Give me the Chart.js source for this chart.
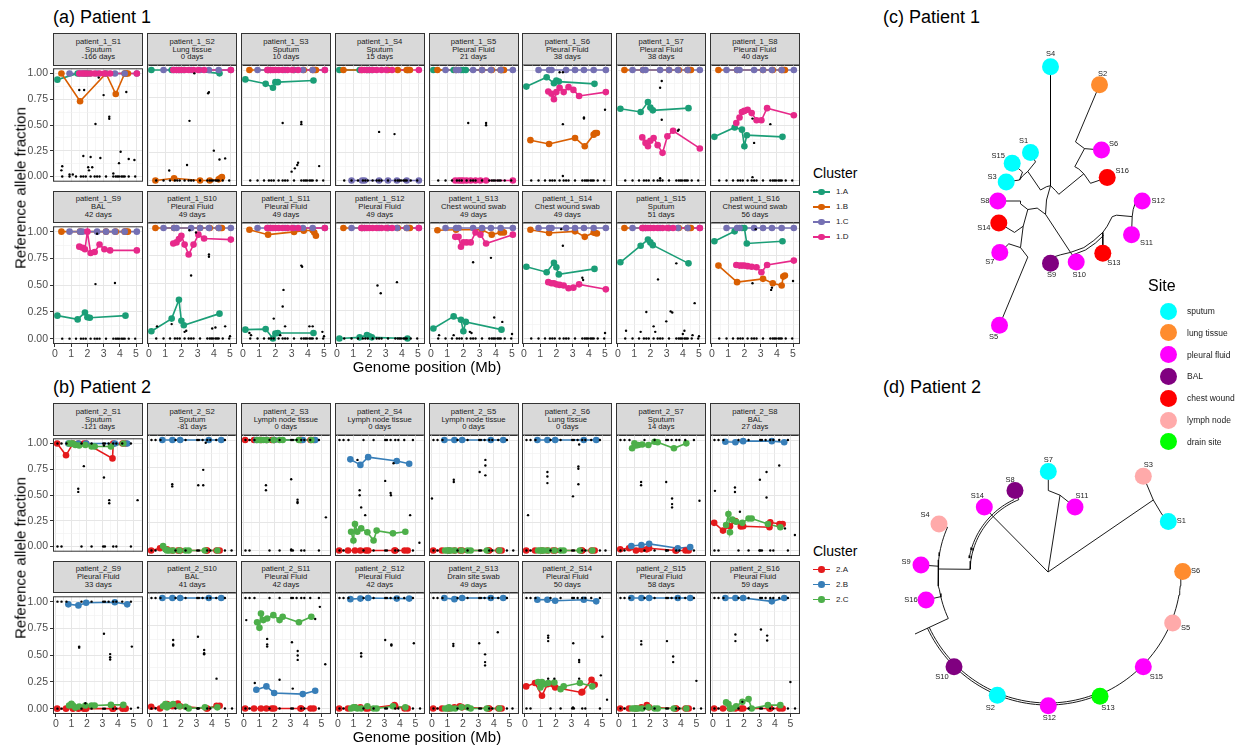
<!DOCTYPE html>
<html>
<head>
<meta charset="utf-8">
<title>Clusters and trees</title>
<script src="https://cdn.jsdelivr.net/npm/chart.js@4.4.1/dist/chart.umd.min.js"></script>
<style>
  html, body { margin: 0; padding: 0; background: #fff; }
  body { width: 1238px; height: 745px; position: relative; overflow: hidden;
         font-family: "Liberation Sans", Arial, Helvetica, sans-serif; color: #000; }
  canvas, .txt, .strip, .key { position: absolute; }
  .strip { background: #d9d9d9; border: 1px solid #333; box-sizing: border-box; font-size: 7.7px;
           line-height: 7.9px; text-align: center; color: #1a1a1a; padding-top: 3.6px; white-space: nowrap;
           -webkit-font-smoothing: antialiased; }
  .txt { white-space: nowrap; line-height: 1; }
  .title { font-size: 18px; }
  .axis { font-size: 15px; }
  .legtitle { font-size: 14px; }
  .leg { font-size: 8px; color: #1a1a1a; }
</style>
</head>
<body>
<script>
// ================= DATA =================
// ---- Patient 1 ----
const p1Days = [-166, 0, 10, 15, 21, 38, 38, 40, 42, 49, 49, 49, 49, 49, 51, 56];
const p1Sites = ['Sputum', 'Lung tissue', 'Sputum', 'Sputum', 'Pleural Fluid', 'Pleural Fluid', 'Pleural Fluid', 'Pleural Fluid',
  'BAL', 'Pleural Fluid', 'Pleural Fluid', 'Pleural Fluid', 'Chest wound swab', 'Chest wound swab', 'Sputum', 'Chest wound swab'];
const p1Clusters = ['1.A', '1.B', '1.C', '1.D'];
const p1Colors = ['#1b9e77', '#d95f02', '#7570b3', '#e7298a'];
// genome position (Mb) of the mutations in each cluster
const p1PosA = [0.15, 1.4, 1.85, 2.0, 2.15, 4.35];
const p1PosB = [0.4, 1.55, 3.15, 3.75, 4.3, 4.4, 4.5];
const p1PosC = [0.9, 1.55, 1.7, 2.6, 3.15, 3.7, 4.3, 5.05];
const p1PosD = [1.5, 1.7, 1.85, 2.0, 2.2, 2.45, 2.75, 3.05, 3.4, 5.05];
// reference allele fraction, one row per sample S1..S16
const p1FracA = [
  [0.94, 1, 1, 1, 1, 1], [1, 1, 1, 1, 1, 0.97], [0.915, 0.875, 0.84, 0.89, 0.89, 0.905], [1, 1, 1, 1, 1, 1],
  [1, 1, 1, 1, 1, 1], [0.85, 0.935, 0.88, 0.905, 0.895, 0.875], [0.65, 0.62, 0.71, 0.66, 0.635, 0.655], [0.395, 0.48, 0.46, 0.31, 0.41, 0.395],
  [0.215, 0.18, 0.245, 0.2, 0.195, 0.215], [0.065, 0.18, 0.35, 0.16, 0.12, 0.225], [0.08, 0.085, 0.0, 0.045, 0.05, 0.05], [0.0, 0.01, 0.03, 0.02, 0.01, 0.0],
  [0.09, 0.2, 0.17, 0.065, 0.15, 0.08], [0.65, 0.6, 0.685, 0.645, 0.58, 0.63], [0.69, 0.84, 0.895, 0.87, 0.845, 0.68], [0.88, 0.97, 1.0, 1.0, 0.86, 0.88]
];
const p1FracB = [
  [1, 0.73, 1, 0.8, 1, 1, 1], [0, 0.02, 0, 0, 0.01, 0.02, 0.03], [1, 1, 1, 1, 1, 1, 1], [1, 1, 1, 1, 1, 1, 1],
  [1, 1, 1, 1, 1, 1, 1], [0.365, 0.33, 0.385, 0.31, 0.415, 0.43, 0.43], [1, 1, 1, 1, 1, 1, 1], [1, 1, 1, 1, 1, 1, 1],
  [1, 1, 1, 1, 1, 1, 1], [1, 1, 1, 1, 1, 1, 1], [0.985, 0.94, 0.965, 0.975, 0.98, 0.96, 0.93], [1, 1, 1, 1, 1, 1, 1],
  [0.98, 0.985, 0.985, 0.94, 0.96, 0.965, 0.96], [0.985, 0.955, 0.97, 0.92, 0.96, 0.955, 0.95], [1, 1, 1, 1, 1, 1, 1], [0.66, 0.51, 0.54, 0.5, 0.48, 0.56, 0.57]
];
const p1FracC = [
  [1, 1, 1, 1, 1, 1, 1, 1], [1, 1, 1, 1, 1, 1, 1, 1], [1, 1, 1, 1, 1, 1, 1, 1], [0, 0, 0, 0, 0, 0, 0, 0],
  [1, 1, 1, 1, 1, 1, 1, 1], [1, 1, 1, 1, 1, 1, 1, 1], [1, 1, 1, 1, 1, 1, 1, 1], [1, 1, 1, 1, 1, 1, 1, 1],
  [1, 1, 1, 1, 1, 1, 1, 1], [1, 1, 1, 1, 1, 1, 1, 1], [1, 1, 1, 1, 1, 1, 1, 1], [1, 1, 1, 1, 1, 1, 1, 1],
  [1, 1, 1, 1, 1, 1, 1, 1], [1, 1, 1, 1, 1, 1, 1, 1], [1, 1, 1, 1, 1, 1, 1, 1], [1, 1, 1, 1, 1, 1, 1, 1]
];
const p1FracD = [
  [1, 1, 1, 1, 1, 1, 1, 1, 1, 1], [1, 1, 1, 1, 1, 1, 1, 1, 1, 1], [1, 1, 1, 1, 1, 1, 1, 1, 1, 1], [1, 1, 1, 1, 1, 1, 1, 1, 1, 1],
  [0, 0, 0, 0, 0, 0, 0, 0, 0, 0], [0.805, 0.785, 0.735, 0.8, 0.84, 0.8, 0.845, 0.82, 0.765, 0.8],
  [0.39, 0.34, 0.31, 0.36, 0.385, 0.32, 0.25, 0.4, 0.45, 0.29], [0.52, 0.57, 0.62, 0.63, 0.64, 0.61, 0.545, 0.545, 0.655, 0.59],
  [0.86, 0.85, 0.835, 1.0, 0.8, 0.81, 0.88, 0.835, 0.825, 0.825], [0.86, 0.87, 0.9, 0.93, 0.85, 0.76, 0.85, 0.94, 0.905, 0.895],
  [1, 1, 1, 1, 1, 1, 1, 1, 1, 1], [1, 1, 1, 1, 1, 1, 1, 1, 1, 1],
  [0.92, 0.92, 0.83, 0.87, 0.87, 0.87, 0.96, 0.94, 0.86, 0.94], [0.51, 0.5, 0.5, 0.49, 0.485, 0.48, 0.455, 0.46, 0.49, 0.445],
  [1, 1, 1, 1, 1, 1, 1, 1, 1, 1], [0.665, 0.66, 0.66, 0.66, 0.655, 0.65, 0.645, 0.6, 0.665, 0.705]
];
// mutations outside the clusters (black dots)
const p1ZeroPos = [0.45, 0.9, 1.3, 1.6, 1.75, 1.9, 2.2, 2.45, 2.6, 2.75, 3.15, 3.6, 3.75, 3.85, 3.95, 4.1, 4.2, 4.3, 4.55, 4.95];
const p1Other = [
  [[0.4, 0.06], [0.45, 0.1], [0.9, 0.02], [1.1, 0.02], [1.5, 0.84], [1.8, 0.84], [1.75, 0.2], [2.2, 0.19], [2.05, 0.09], [2.1, 0.06], [2.3, 0.09], [2.5, 0.51], [2.7, 0.96], [2.8, 0.18], [3.0, 0.79], [3.35, 0.56], [3.35, 0.58], [3.6, 0.03], [3.95, 0.13], [4.05, 0.24], [4.4, 0.82], [4.55, 0.17], [4.9, 0.16]],
  [[1.25, 0.09], [2.35, 0.14], [2.5, 0.54], [2.8, 0.97], [3.65, 0.79], [3.7, 0.8], [4.0, 0.27], [4.35, 0.19], [4.7, 0.2]],
  [[2.45, 0.52], [3.6, 0.51], [3.6, 0.53], [3.0, 0.08], [3.2, 0.11], [3.35, 0.14], [3.4, 0.16], [4.7, 0.13]],
  [[2.6, 0.44], [3.55, 0.42]],
  [[2.3, 0.52], [3.4, 0.5], [3.4, 0.52]],
  [[2.2, 0.98], [2.4, 0.98], [5.0, 0.64], [3.7, 0.56], [3.7, 0.57], [2.4, 0.51], [2.4, 0.04]],
  [[2.7, 0.9], [2.6, 0.84], [2.7, 0.55], [3.7, 0.45], [3.75, 0.46], [2.6, 0.02]],
  [[2.5, 0.56], [2.6, 0.34], [3.6, 0.51], [2.5, 0.03]],
  [[2.6, 0.98], [2.5, 0.51], [3.7, 0.52]],
  [[2.5, 0.98], [2.9, 0.96], [2.6, 0.57], [3.7, 0.76], [3.7, 0.74], [0.5, 0.11], [1.4, 0.13], [2.2, 0.06], [2.3, 0.07], [3.9, 0.09], [4.1, 0.1], [4.7, 0.11], [5.0, 0.02]],
  [[0.4, 0.05], [0.5, 0.03], [1.9, 0.18], [2.45, 0.29], [2.5, 0.44], [2.6, 0.11], [3.6, 0.66], [3.65, 0.65], [4.1, 0.11], [4.3, 0.11], [4.9, 0.06], [5.0, 0.02], [2.3, 0.03]],
  [[2.5, 0.48], [2.7, 0.41], [3.7, 0.51]],
  [[2.6, 0.69], [3.7, 0.73], [3.9, 0.19], [4.4, 0.15], [0.5, 0.03], [2.4, 0.06], [2.5, 0.05], [1.4, 0.03], [5.0, 0.04]],
  [[2.4, 0.84], [3.6, 0.55], [3.65, 0.53], [2.3, 0.99], [5.0, 0.05]],
  [[3.6, 0.68], [2.47, 0.535], [4.73, 0.32], [1.75, 0.24], [3.25, 0.245], [3.35, 0.235], [2.98, 0.155], [2.2, 0.11], [2.3, 0.06], [0.5, 0.07], [1.4, 0.06], [4.0, 0.04], [4.1, 0.07], [4.6, 0.03], [5.0, 0.02]],
  [[2.5, 0.5], [3.7, 0.46], [3.65, 0.44], [5.0, 0.52], [2.7, 0.99]]
];

// ---- Patient 2 ----
const p2Days = [-121, -81, 0, 0, 0, 0, 14, 27, 33, 41, 42, 42, 49, 50, 58, 59];
const p2Sites = ['Sputum', 'Sputum', 'Lymph node tissue', 'Lymph node tissue', 'Lymph node tissue', 'Lung tissue', 'Sputum', 'BAL',
  'Pleural Fluid', 'BAL', 'Pleural Fluid', 'Pleural Fluid', 'Drain site swab', 'Pleural Fluid', 'Pleural Fluid', 'Pleural Fluid'];
const p2Clusters = ['2.A', '2.B', '2.C'];
const p2Colors = ['#e41a1c', '#377eb8', '#4daf4a'];
const p2PosA = [0.08, 0.65, 1.1, 1.45, 1.8, 1.95, 3.65, 3.7, 4.3, 4.5];
const p2PosB = [0.8, 1.45, 1.95, 3.8, 4.6];
const p2PosC = [0.85, 1.0, 1.1, 1.25, 1.5, 1.9, 2.3, 2.5, 3.55, 4.35];
const p2FracA = [
  [1.0, 0.885, 1.0, 1.0, 1.0, 1.0, 0.855, 1.0, 1.0, 1.0], [0, 0.02, 0.01, 0, 0, 0, 0, 0, 0, 0],
  [1, 1, 1, 1, 1, 1, 1, 1, 1, 1], [0, 0, 0, 0, 0, 0, 0, 0, 0, 0],
  [0, 0, 0, 0, 0, 0, 0, 0, 0, 0], [0, 0, 0, 0, 0, 0, 0, 0, 0, 0],
  [0.01, 0.02, 0, 0.01, 0.01, 0.02, 0, 0, 0, 0], [0.25, 0.18, 0.22, 0.267, 0.218, 0.22, 0.21, 0.255, 0.24, 0.24],
  [0, 0, 0, 0, 0, 0, 0, 0, 0, 0], [0.015, 0.0, 0.04, 0.02, 0.045, 0.02, 0.0, 0.0, 0.025, 0.025],
  [0, 0, 0, 0, 0, 0, 0, 0, 0, 0], [0, 0, 0.01, 0.01, 0, 0, 0.03, 0.02, 0, 0],
  [0, 0, 0, 0.01, 0.02, 0.01, 0, 0, 0, 0], [0.2, 0.23, 0.115, 0.22, 0.22, 0.19, 0.145, 0.15, 0.26, 0.215],
  [0, 0, 0, 0.01, 0.03, 0.01, 0, 0, 0, 0], [0, 0, 0, 0, 0, 0, 0, 0, 0, 0]
];
const p2FracB = [
  [1, 1, 1, 1, 1], [1, 1, 1, 1, 1], [1, 1, 1, 1, 1], [0.825, 0.775, 0.845, 0.81, 0.785],
  [1, 1, 1, 1, 1], [1, 1, 1, 1, 1], [0.04, 0.05, 0.06, 0.02, 0.03], [0.985, 0.98, 0.99, 0.99, 0.98],
  [0.975, 0.965, 0.99, 0.995, 0.975], [1, 1, 1, 1, 1], [0.17, 0.2, 0.14, 0.13, 0.16], [0.99, 0.995, 1.0, 0.995, 0.995],
  [1.0, 0.99, 1.0, 1.0, 1.0], [0.985, 0.985, 0.975, 0.985, 0.97], [1, 1, 1, 1, 1], [1.0, 1.0, 1.0, 0.97, 1.0]
];
const p2FracC = [
  [1.0, 1.0, 1.0, 0.985, 0.98, 0.985, 0.97, 0.97, 0.97, 1.0], [0.04, 0.01, 0, 0, 0, 0, 0, 0, 0, 0],
  [1, 1, 1, 1, 1, 1, 1, 1, 1, 1], [0.17, 0.09, 0.24, 0.17, 0.2, 0.165, 0.09, 0.18, 0.155, 0.17],
  [0, 0, 0, 0, 0, 0, 0, 0, 0, 0], [0, 0, 0, 0, 0, 0, 0, 0, 0, 0],
  [0.925, 0.97, 0.95, 0.955, 0.96, 0.955, 0.985, 0.98, 0.925, 0.97], [0.23, 0.33, 0.165, 0.28, 0.26, 0.25, 0.29, 0.29, 0.24, 0.21],
  [0.03, 0.045, 0.03, 0.01, 0.02, 0.03, 0.03, 0.03, 0.035, 0.035], [0.02, 0.04, 0.01, 0.03, 0.04, 0.02, 0.015, 0.0, 0.01, 0.01],
  [0.78, 0.73, 0.86, 0.8, 0.815, 0.845, 0.8, 0.83, 0.78, 0.83], [0.0, 0.01, 0.01, 0.0, 0.0, 0.02, 0.0, 0.0, 0.02, 0.01],
  [0, 0, 0.01, 0, 0, 0.01, 0.01, 0, 0, 0], [0.24, 0.19, 0.24, 0.22, 0.23, 0.235, 0.175, 0.2, 0.23, 0.2],
  [0, 0, 0, 0, 0, 0.01, 0, 0, 0, 0], [0.055, 0.04, 0.0, 0.0, 0.02, 0.06, 0.085, 0.0, 0.03, 0.03]
];
const p2OnePos = [0.1, 0.36, 0.68, 1.65, 2.3, 3.05, 3.16, 3.4, 3.7, 3.9, 4.28, 4.84];
const p2ZeroPos = [0.1, 0.36, 1.65, 2.3, 3.05, 3.16, 3.7, 3.9, 4.84];
const p2Other = [
  [[1.8, 0.78], [1.44, 0.56], [1.44, 0.53], [3.1, 0.67], [3.44, 0.45], [3.44, 0.42], [5.27, 0.45], [3.1, 0.98]],
  [[1.44, 0.6], [1.44, 0.58], [3.12, 0.59], [3.44, 0.73], [3.44, 0.59], [3.6, 0.975], [5.27, 0.0]],
  [[1.42, 0.59], [1.42, 0.545], [3.05, 0.645], [3.46, 0.46], [3.46, 0.44], [3.46, 0.43], [5.29, 0.3], [3.05, 0.01]],
  [[1.26, 0.82], [3.05, 0.63], [1.4, 0.545], [1.4, 0.5], [3.4, 0.52], [3.42, 0.5], [1.5, 0.39], [1.76, 0.32], [4.66, 0.32], [5.26, 0.07], [3.59, 0.79]],
  [[3.45, 0.82], [3.45, 0.77], [3.08, 0.71], [3.45, 0.68], [1.41, 0.64], [1.41, 0.62], [0.0, 0.47], [5.25, 0.0]],
  [[1.45, 0.71], [1.45, 0.67], [1.45, 0.61], [3.45, 0.76], [3.45, 0.74], [3.45, 0.6], [3.1, 0.49], [0.2, 0.32], [3.5, 0.96], [5.2, 0.0]],
  [[1.43, 0.62], [1.43, 0.59], [3.05, 0.62], [3.43, 0.47], [3.43, 0.42], [3.43, 0.39], [5.2, 0.45], [3.05, 0.0]],
  [[4.28, 0.77], [3.46, 0.71], [3.03, 0.64], [1.42, 0.57], [1.42, 0.53], [0.13, 0.54], [3.46, 0.48], [1.74, 0.35], [4.65, 0.2], [5.29, 0.14], [3.0, 0.0]],
  [[1.5, 0.58], [1.5, 0.57], [3.1, 0.7], [3.5, 0.51], [3.5, 0.48], [3.5, 0.46], [4.9, 0.58], [5.3, 0.01], [1.9, 0.05]],
  [[1.5, 0.62], [1.5, 0.58], [1.5, 0.57], [3.1, 0.65], [3.5, 0.53], [3.5, 0.5], [3.5, 0.49], [4.3, 0.27], [5.3, 0.0], [3.1, 0.0]],
  [[0.15, 0.8], [0.7, 0.23], [1.5, 0.63], [1.5, 0.58], [1.5, 0.56], [2.3, 0.26], [3.1, 0.6], [3.47, 0.52], [3.47, 0.48], [3.47, 0.44], [5.25, 0.4], [4.9, 0.92], [4.6, 0.81], [3.15, 0.18]],
  [[1.5, 0.5], [1.5, 0.47], [3.05, 0.62], [3.45, 0.58], [3.45, 0.57], [4.9, 0.59], [5.3, 0.0]],
  [[1.38, 0.585], [1.38, 0.565], [3.05, 0.59], [3.43, 0.49], [3.43, 0.42], [3.43, 0.39], [4.25, 0.69], [5.2, 0.0]],
  [[1.5, 0.66], [1.5, 0.64], [1.5, 0.61], [3.12, 0.59], [3.5, 0.44], [3.5, 0.42], [5.0, 0.65], [4.9, 0.3], [5.3, 0.08], [3.1, 0.01], [1.5, 0.27], [1.9, 0.27], [3.5, 0.27]],
  [[1.44, 0.61], [1.44, 0.58], [3.1, 0.61], [3.5, 0.47], [3.5, 0.42], [5.0, 0.25], [5.3, 0.0]],
  [[1.45, 0.67], [1.45, 0.61], [3.1, 0.715], [3.5, 0.66], [3.5, 0.615], [5.0, 0.24], [5.3, 0.0], [1.9, 0.06]]
];

// ---- Sites (tree tip colours) ----
const siteNames = ['sputum', 'lung tissue', 'pleural fluid', 'BAL', 'chest wound', 'lymph node', 'drain site'];
const siteColors = ['#00ffff', '#ff8c2e', '#ff00ff', '#800080', '#ff0000', '#ffaaaa', '#00ff00'];
const stripSite = { 'Sputum': 0, 'Lung tissue': 1, 'Pleural Fluid': 2, 'BAL': 3, 'Chest wound swab': 4, 'Lymph node tissue': 5, 'Drain site swab': 6 };

// ---- Tree (c): tips in branch-length units around the root ----
const treeCTips = [4, 2, 6, 16, 12, 11, 13, 10, 9, 5, 7, 14, 8, 3, 15, 1];
const treeCX = [0, 49, 51, 56.7, 91.7, 81, 52.3, 25.7, 0, -51, -50.7, -51.7, -52.7, -44.3, -38.3, -20];
const treeCY = [121.3, 103.2, 38, 10.4, -13, -46.8, -65.3, -73.9, -75.3, -137.2, -64.4, -34.9, -13, 6.1, 24.7, 35.6];
const treeCBranches = [
  [[0, 121.3], [0, 2.3]], [[-4, 1.3], [0, 2.3], [5, -2.5], [8.3, -6.3]], [[8.3, -6.3], [33.3, 14.2]],
  [[33.3, 14.2], [28.3, 19], [24.3, 21.3]], [[33.3, 14.2], [40, 4.7]], [[40, 4.7], [56.7, 10.4]],
  [[24.3, 21.3], [34, 39.4]], [[34, 39.4], [51, 38]], [[34, 39.4], [25, 46.1]], [[25, 46.1], [46.7, 97.5], [49, 103.2]],
  [[-4, 1.3], [-10, -2], [-22.7, 16.6]], [[-22.7, 16.6], [-15, 26.1], [-20, 35.6]], [[-22.7, 16.6], [-28, 12], [-31, 8]],
  [[-31, 8], [-44.3, 6.1]], [[-31, 8], [-28, 16], [-38.3, 24.7]],
  [[0, 2.3], [-4, -12], [-5, -26.3]], [[-5, -26.3], [20, -64.4]], [[-5, -26.3], [-13.3, -20.1], [-22.7, -21.5]],
  [[-22.7, -21.5], [-30, -15.8], [-30, -13], [-52.7, -13]], [[-22.7, -21.5], [-27.3, -38.2]],
  [[-27.3, -38.2], [-36, -44.4], [-51.7, -34.9]], [[-27.3, -38.2], [-30, -59.6], [-22.7, -69.1]],
  [[-30, -59.6], [-41.7, -55.8], [-50.7, -64.4]], [[-22.7, -69.1], [-51, -137.2]],
  [[20, -64.4], [10, -66.8], [3, -69], [0, -71.5], [0, -75.3]], [[20, -64.4], [23.3, -69], [25.7, -73.9]],
  [[20, -64.4], [33.3, -59.6], [43.3, -52.5], [52.3, -44.4], [56.7, -38.2], [61.7, -28.7], [66, -27.2]],
  [[22, -67], [35, -62], [45, -55], [53, -47.5]], [[52.3, -44.4], [52.3, -65.3]],
  [[66, -27.2], [81.7, -28.6], [82.7, -21.4], [85, -14.3], [91.7, -13]], [[81.7, -28.6], [81, -46.8]]
];

// ---- Tree (d) ----
const treeDTips = [7, 8, 14, 11, 3, 1, 6, 5, 15, 13, 12, 2, 10, 4, 9, 16];
const treeDX = [0.3, -33, -63.7, 27, 95.3, 120.3, 134.7, 124.7, 95.3, 52, 0.3, -50.7, -94, -109, -127, -122];
const treeDY = [100.6, 81.5, 64.9, 64.9, 95.8, 50.6, 0.6, -50.9, -94.7, -124.2, -133.7, -123.2, -94.7, 48, 7, -28];
const treeDBranches = [
  [[0, 0], [12, 76.8]], [[12, 76.8], [0.3, 81.5], [0.3, 100.6]], [[12, 76.8], [27, 64.9]],
  [[0, 0], [105.3, 72]], [[105.3, 72], [95.3, 95.8]], [[105.3, 72], [113.7, 58], [120.3, 50.6]],
  [[0, 0], [-54.7, 55.3]], [[-54.7, 55.3], [-63.7, 64.9]],
  [[-29.2, 72.3], [-33, 81.5]], [[-78, 2.7], [-110, 3]], [[-100.5, 44.7], [-109, 48]],
  [[-110, 5.8], [-127, 7]], [[-107.4, -24.7], [-122, -28]], [[-99.7, -46.5], [-133, -62]]
];
// arcs: [radius, start angle, end angle] in degrees
const treeDArcs = [[78, 112, 178], [80, 115, 170], [110, 156, 205], [133, 205, 360], [131, 205, 290]];

// ================= DRAWING =================
const FONT = '"Liberation Sans", Arial, Helvetica, sans-serif';
const COL_LEFT = 53.3, COL_STEP = 93.8, PANEL_W = 90, STRIP_H = 31.5, PLOT_H = 121.5;
const gridTicksX = [0, 0.5, 1, 1.5, 2, 2.5, 3, 3.5, 4, 4.5, 5, 5.5];
const gridTicksY = [0, 0.125, 0.25, 0.375, 0.5, 0.625, 0.75, 0.875, 1];
const majorX = (v) => Math.abs(v - Math.round(v)) < 1e-9;
const majorY = (v) => Math.abs(v * 4 - Math.round(v * 4)) < 1e-9;

function addText(txt, x, y, cls, extra) {
  const d = document.createElement('div');
  d.className = 'txt ' + (cls || '');
  d.textContent = txt;
  d.style.left = x + 'px';
  d.style.top = y + 'px';
  Object.assign(d.style, extra || {});
  document.body.appendChild(d);
  return d;
}

const frame = {
  id: 'frame',
  afterDraw(chart) {
    const a = chart.chartArea, c = chart.ctx;
    c.save();
    c.strokeStyle = '#333';
    c.lineWidth = 1;
    c.strokeRect(a.left + 0.5, a.top + 0.5, a.right - a.left - 1, a.bottom - a.top - 1);
    c.restore();
  }
};

function panelSets(pt, s) {
  const black = pt.zero.map(x => ({ x, y: 0 }))
    .concat(pt.one.map(x => ({ x, y: 1 })))
    .concat(pt.other[s].map(([x, y]) => ({ x, y })));
  const sets = [{ data: black, showLine: false, pointRadius: 1.2, pointBackgroundColor: '#000', pointBorderWidth: 0, order: 0 }];
  pt.pos.forEach((pos, k) => {
    const pts = pos.map((x, i) => ({ x, y: pt.frac[k][s][i] }));
    sets.push({ data: pts, showLine: true, borderColor: pt.colors[k], borderWidth: 1.6, pointRadius: 0, order: 30 - k });
    sets.push({ data: pts, showLine: false, pointRadius: 3.3, pointBackgroundColor: pt.colors[k], pointBorderWidth: 0, order: 20 - k });
  });
  return sets;
}

function buildPanel(pt, s) {
  const col = s % 8, row = Math.floor(s / 8);
  const left = COL_LEFT + col * COL_STEP;
  const stripTop = pt.stripTops[row];
  const plotTop = stripTop + STRIP_H;

  const strip = document.createElement('div');
  strip.className = 'strip';
  Object.assign(strip.style, { left: left + 'px', top: stripTop + 'px', width: PANEL_W + 'px', height: (STRIP_H + 1) + 'px' });
  strip.innerHTML = 'patient_' + pt.id + '_S' + (s + 1) + '<br>' + pt.sites[s] + '<br>' + pt.days[s] + ' days';
  document.body.appendChild(strip);

  const showY = col === 0, showX = row === 1;
  const yW = showY ? 40 : 0, xH = showX ? 15 : 0;
  const mL = showY ? 46 : 5, mR = 5, mT = 4.5, mB = showX ? 21 : 4;
  const cv = document.createElement('canvas');
  const w = PANEL_W + mL + mR, h = PLOT_H + mT + mB;
  cv.width = w; cv.height = h;
  Object.assign(cv.style, { left: (left - mL) + 'px', top: (plotTop - mT) + 'px', width: w + 'px', height: h + 'px' });
  document.body.appendChild(cv);

  const tickFont = { family: FONT, size: 10.5 };
  new Chart(cv.getContext('2d'), {
    type: 'scatter',
    data: { datasets: panelSets(pt, s) },
    options: {
      animation: false, responsive: false, events: [],
      layout: { autoPadding: false, padding: { left: mL - yW, right: mR, top: mT, bottom: mB - xH } },
      plugins: { legend: { display: false }, tooltip: { enabled: false } },
      scales: {
        x: {
          type: 'linear', min: pt.xRange[0], max: pt.xRange[1],
          afterBuildTicks: (sc) => { sc.ticks = gridTicksX.filter(v => v <= pt.xRange[1]).map(v => ({ value: v })); },
          afterFit: (sc) => { sc.height = xH; },
          border: { display: false },
          grid: {
            color: (c) => majorX(c.tick.value) ? '#e6e6e6' : '#f0f0f0',
            lineWidth: (c) => majorX(c.tick.value) ? 1 : 0.6,
            drawTicks: showX, tickLength: 3,
            tickColor: (c) => majorX(c.tick.value) ? '#333' : 'rgba(0,0,0,0)'
          },
          ticks: { display: showX, autoSkip: false, maxRotation: 0, minRotation: 0, padding: 1, font: tickFont, color: '#4d4d4d',
            callback: (v) => majorX(v) ? String(Math.round(v)) : '' }
        },
        y: {
          type: 'linear', min: -0.05, max: 1.05,
          afterBuildTicks: (sc) => { sc.ticks = gridTicksY.map(v => ({ value: v })); },
          afterFit: (sc) => { sc.width = yW; },
          border: { display: false },
          grid: {
            color: (c) => majorY(c.tick.value) ? '#e6e6e6' : '#f0f0f0',
            lineWidth: (c) => majorY(c.tick.value) ? 1 : 0.6,
            drawTicks: showY, tickLength: 3,
            tickColor: (c) => majorY(c.tick.value) ? '#333' : 'rgba(0,0,0,0)'
          },
          ticks: { display: showY, autoSkip: false, padding: 2, font: tickFont, color: '#4d4d4d',
            callback: (v) => majorY(v) ? v.toFixed(2) : '' }
        }
      }
    },
    plugins: [frame]
  });
}

function buildBlock(pt, title, titleTop) {
  addText(title, 53, titleTop, 'title');
  for (let s = 0; s < 16; s++) buildPanel(pt, s);
  const top = pt.stripTops[0], bottom = pt.stripTops[1] + STRIP_H + PLOT_H;
  addText('Reference allele fraction', 20, (top + bottom) / 2, 'axis', { transform: 'translate(-50%,-50%) rotate(-90deg)' });
  addText('Genome position (Mb)', 427, bottom + 22, 'axis', { transform: 'translate(-50%,-50%)' });
  // cluster legend
  addText('Cluster', 813, pt.legendTop - 19, 'legtitle', { transform: 'translateY(-50%)' });
  pt.clusters.forEach((name, k) => {
    const y = pt.legendTop + k * 15;
    const ln = document.createElement('div');
    ln.className = 'key';
    Object.assign(ln.style, { left: '813px', top: (y - 0.8) + 'px', width: '17px', height: '1.6px', background: pt.colors[k] });
    document.body.appendChild(ln);
    const dot = document.createElement('div');
    dot.className = 'key';
    Object.assign(dot.style, { left: (821.5 - 3.3) + 'px', top: (y - 3.3) + 'px', width: '6.6px', height: '6.6px', borderRadius: '50%', background: pt.colors[k] });
    document.body.appendChild(dot);
    addText(name, 836, y, 'leg', { transform: 'translateY(-50%)' });
  });
}

const patient1 = { id: 1, days: p1Days, sites: p1Sites, clusters: p1Clusters, colors: p1Colors,
  pos: [p1PosA, p1PosB, p1PosC, p1PosD], frac: [p1FracA, p1FracB, p1FracC, p1FracD],
  zero: p1ZeroPos, one: [], other: p1Other, xRange: [-0.12, 5.43], stripTops: [33, 190.5], legendTop: 192 };
const patient2 = { id: 2, days: p2Days, sites: p2Sites, clusters: p2Clusters, colors: p2Colors,
  pos: [p2PosA, p2PosB, p2PosC], frac: [p2FracA, p2FracB, p2FracC],
  zero: p2ZeroPos, one: p2OnePos, other: p2Other, xRange: [-0.19, 5.62], stripTops: [403, 560.5], legendTop: 569.5 };

buildBlock(patient1, '(a) Patient 1', 8);
buildBlock(patient2, '(b) Patient 2', 378);

// ---------- trees ----------
const tipLabelsC = { 4: [0, -13], 2: [3, -11], 6: [12, -6], 16: [15, -7], 12: [16, 0], 11: [15, 8], 13: [11, 10], 10: [3, 13],
  9: [1, 12], 5: [-6, 12], 7: [-10, 10], 14: [-15, 5], 8: [-13, 0], 3: [-14, -5], 15: [-14, -7], 1: [-7, -11] };
const tipLabelsD = { 7: [0, -11], 8: [-5, -11], 14: [-7, -11], 11: [7, -11], 3: [5, -11], 1: [13, 0], 6: [13, 0], 5: [13, 5],
  15: [13, 10], 13: [8, 12], 12: [1, 12], 2: [-7, 13], 10: [-12, 10], 4: [-14, -9], 9: [-15, -3], 16: [-15, 0] };

function arcPts(r, a0, a1) {
  const pts = [];
  const n = Math.max(2, Math.ceil(Math.abs(a1 - a0) / 2));
  for (let i = 0; i <= n; i++) {
    const a = (a0 + (a1 - a0) * i / n) * Math.PI / 180;
    pts.push({ x: r * Math.cos(a), y: r * Math.sin(a) });
  }
  return pts;
}

function buildTree(box, tips, tx, ty, sites, branches, arcs, labelAt) {
  const cv = document.createElement('canvas');
  cv.width = box.w; cv.height = box.h;
  Object.assign(cv.style, { left: box.left + 'px', top: box.top + 'px', width: box.w + 'px', height: box.h + 'px' });
  document.body.appendChild(cv);
  const edgeSets = branches.map(b => b.map(([x, y]) => ({ x, y }))).concat(arcs.map(([r, a0, a1]) => arcPts(r, a0, a1)))
    .map(pts => ({ data: pts, showLine: true, borderColor: '#000', borderWidth: 0.9, pointRadius: 0, order: 5 }));
  const tipSet = {
    data: tips.map((t, i) => ({ x: tx[i], y: ty[i] })), showLine: false, pointRadius: 8.5, pointBorderWidth: 0,
    pointBackgroundColor: tips.map(t => siteColors[stripSite[sites[t - 1]]]), order: 0
  };
  const labels = {
    id: 'tipLabels',
    afterDatasetsDraw(chart) {
      const c = chart.ctx, sx = chart.scales.x, sy = chart.scales.y;
      c.save();
      c.font = '7.5px ' + FONT;
      c.fillStyle = '#222';
      c.textAlign = 'center';
      c.textBaseline = 'middle';
      tips.forEach((t, i) => {
        const off = labelAt[t];
        c.fillText('S' + t, sx.getPixelForValue(tx[i]) + off[0], sy.getPixelForValue(ty[i]) + off[1]);
      });
      c.restore();
    }
  };
  new Chart(cv.getContext('2d'), {
    type: 'scatter',
    data: { datasets: [tipSet].concat(edgeSets) },
    options: {
      animation: false, responsive: false, events: [],
      layout: { autoPadding: false, padding: 0 },
      plugins: { legend: { display: false }, tooltip: { enabled: false } },
      scales: {
        x: { type: 'linear', display: false, min: box.x0, max: box.x0 + box.w },
        y: { type: 'linear', display: false, min: box.y0 - box.h, max: box.y0 }
      }
    },
    plugins: [labels]
  });
}

addText('(c) Patient 1', 883, 8, 'title');
addText('(d) Patient 2', 883, 378, 'title');
buildTree({ left: 940, top: 30, w: 298, h: 320, x0: -110.5, y0: 158 }, treeCTips, treeCX, treeCY, p1Sites, treeCBranches, [], tipLabelsC);
buildTree({ left: 880, top: 400, w: 358, h: 345, x0: -168, y0: 172 }, treeDTips, treeDX, treeDY, p2Sites, treeDBranches, treeDArcs, tipLabelsD);

// site legend
addText('Site', 1148, 286, 'title', { fontSize: '16px', transform: 'translateY(-50%)' });
siteNames.forEach((name, i) => {
  const y = 311 + i * 21.8;
  const dot = document.createElement('div');
  dot.className = 'key';
  Object.assign(dot.style, { left: (1168 - 8.5) + 'px', top: (y - 8.5) + 'px', width: '17px', height: '17px', borderRadius: '50%', background: siteColors[i] });
  document.body.appendChild(dot);
  addText(name, 1187, y, 'leg', { fontSize: '8.5px', transform: 'translateY(-50%)' });
});
</script>
</body>
</html>
